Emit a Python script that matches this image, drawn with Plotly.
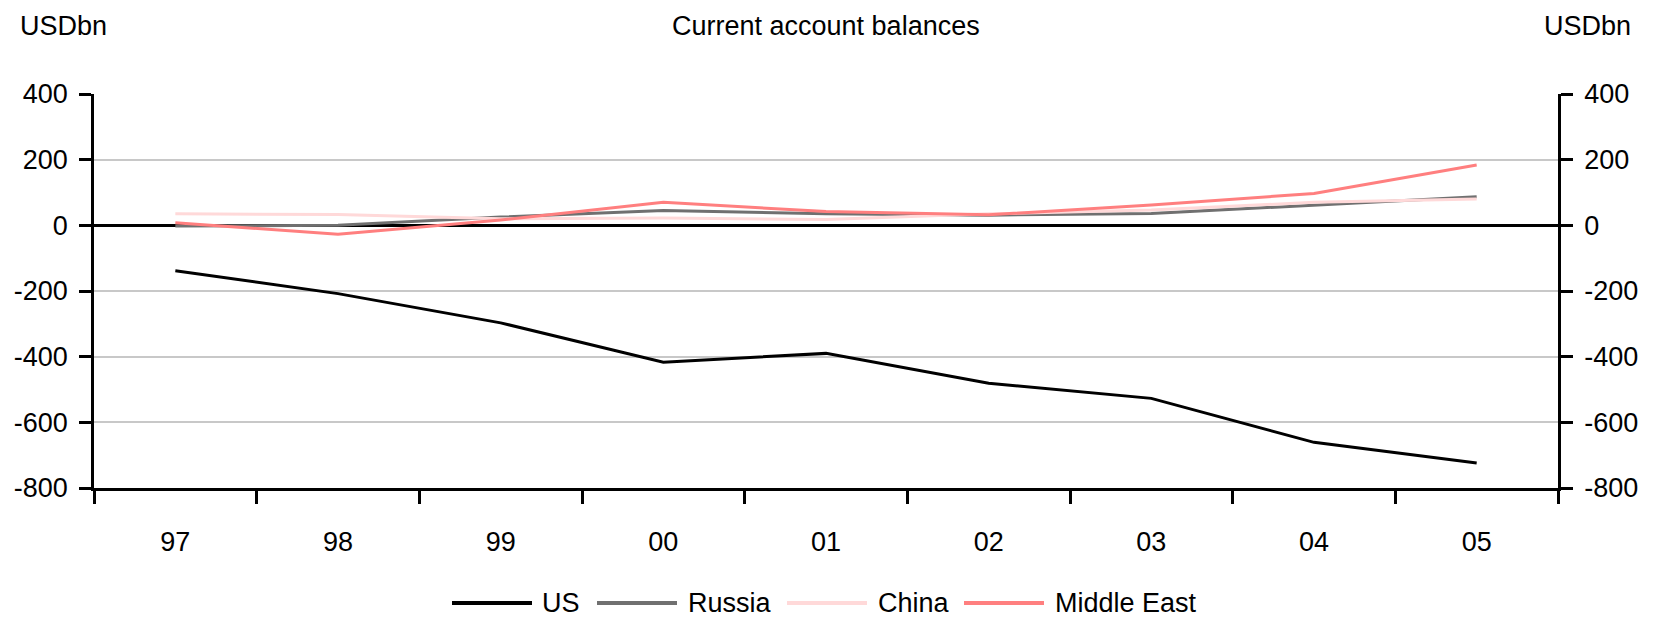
import plotly.graph_objects as go

years = ["97", "98", "99", "00", "01", "02", "03", "04", "05"]
us = [-138, -208, -297, -417, -390, -481, -527, -661, -724]
russia = [-2, 0, 25, 45, 35, 31, 36, 62, 87]
china = [35, 33, 20, 22, 18, 35, 47, 70, 80]
middle_east = [8, -27, 16, 70, 42, 32, 62, 97, 184]

y_ticks = [-800, -600, -400, -200, 0, 200, 400]
y_tick_labels = ["-800", "-600", "-400", "-200", "0", "200", "400"]

FONT = "Liberation Sans, Arial, sans-serif"
FS = 27

series = [
    ("US", us, "#000000", 3),
    ("Russia", russia, "#707070", 3),
    ("China", china, "#FFD9D9", 3),
    ("Middle East", middle_east, "#FF7F7F", 3),
]

fig = go.Figure()
for name, vals, col, w in series:
    fig.add_trace(go.Scatter(
        x=years, y=vals, mode="lines", name=name,
        line=dict(color=col, width=w), showlegend=False,
        yaxis="y2" if name == "Middle East" else "y",
    ))

axis_common = dict(
    range=[-800, 400], tickvals=y_ticks, ticktext=y_tick_labels,
    ticks="outside", ticklen=12, tickwidth=2.5, tickcolor="black",
    showline=True, linecolor="black", linewidth=2.5, automargin=False,
    tickfont=dict(family=FONT, size=FS, color="black"),
    ticklabelstandoff=6,
)

fig.update_layout(
    width=1654, height=619,
    margin=dict(l=94, r=96, t=94, b=131),
    paper_bgcolor="white", plot_bgcolor="white",
    font=dict(family=FONT, size=FS, color="black"),
    xaxis=dict(
        type="category", range=[-0.5, 8.5], tickson="boundaries",
        ticks="outside", ticklen=13, tickwidth=2.5, tickcolor="black",
        showline=True, linecolor="black", linewidth=2.5, showgrid=False,
        automargin=False,
        tickfont=dict(family=FONT, size=FS, color="black"),
        ticklabelstandoff=28,
    ),
    yaxis=dict(
        **axis_common, side="left", showgrid=True, gridcolor="#C8C8C8",
        gridwidth=2, zeroline=True, zerolinecolor="black", zerolinewidth=3,
    ),
    yaxis2=dict(
        **axis_common, side="right", overlaying="y", showgrid=False,
        zeroline=False,
    ),
    showlegend=False,
)

# Headline texts
fig.add_annotation(text="Current account balances", xref="paper", yref="paper",
                   x=0.5, y=1, yshift=68, showarrow=False, yanchor="middle",
                   font=dict(size=FS))
fig.add_annotation(text="USDbn", xref="paper", yref="paper", x=0, xshift=-76,
                   y=1, yshift=68, xanchor="left", yanchor="middle",
                   showarrow=False, font=dict(size=FS))
fig.add_annotation(text="USDbn", xref="paper", yref="paper", x=1, xshift=75,
                   y=1, yshift=68, xanchor="right", yanchor="middle",
                   showarrow=False, font=dict(size=FS))

# Legend row drawn under the axis
plot_w = 1654 - 94 - 96
leg_y = -115  # pixels below plot bottom
leg_items = [("US", 452, 532, 540), ("Russia", 597, 677, 686),
             ("China", 787, 867, 876), ("Middle East", 964, 1044, 1053)]
for (name, vals, col, w), (lab, x0, x1, tx) in zip(series, leg_items):
    fig.add_shape(type="line", xref="paper", yref="paper",
                  x0=(x0 - 94) / plot_w, x1=(x1 - 94) / plot_w,
                  y0=leg_y / 394, y1=leg_y / 394,
                  line=dict(color=col, width=4))
    fig.add_annotation(text=lab, xref="paper", yref="paper",
                       x=(tx - 94) / plot_w, y=leg_y / 394, xanchor="left",
                       yanchor="middle", showarrow=False, font=dict(size=FS))

fig.write_html("out.html")
